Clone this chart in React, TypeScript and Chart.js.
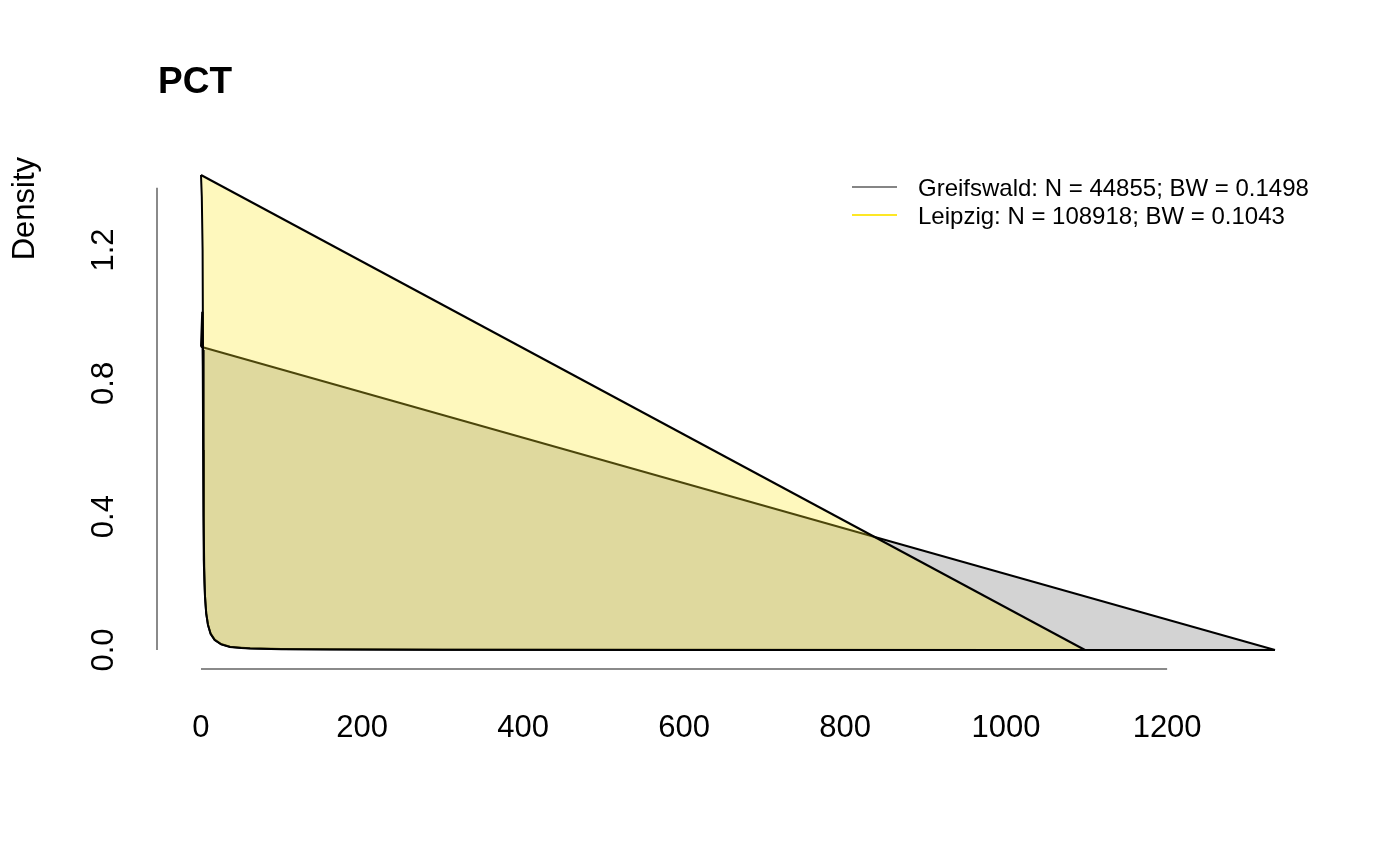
import { useEffect, useRef } from "react"
import { Chart, registerables } from "chart.js"

Chart.register(...registerables)

// Density estimates (x = PCT, y = density)
const greifswaldX = [0, 1.5, 2.2, 2.7, 3.2, 3.7, 4.3, 5, 6.5, 8.7, 12, 17, 25, 36, 50, 61, 100, 160, 300, 600, 1000, 1334]
const greifswaldY = [0.91, 1.015, 0.85, 0.6, 0.4, 0.27, 0.2, 0.16, 0.11, 0.076, 0.049, 0.031, 0.018, 0.01, 0.007, 0.005, 0.003, 0.002, 0.001, 0.0005, 0.0002, 0]

const leipzigX = [0, 1, 2, 2.5, 3, 3.5, 4, 5, 6.5, 8.7, 12, 17, 25, 36, 50, 61, 100, 160, 300, 600, 900, 1098]
const leipzigY = [1.425, 1.36, 1.2, 0.9, 0.6, 0.4, 0.25, 0.16, 0.11, 0.075, 0.048, 0.03, 0.017, 0.009, 0.006, 0.0045, 0.0025, 0.0015, 0.0008, 0.0003, 0.0001, 0]

const xTicks = [0, 200, 400, 600, 800, 1000, 1200]
const yTicks = [0, 0.4, 0.8, 1.2]
const yAxisSpan = [0, 1.387]

const legendLabels = [
  "Greifswald: N = 44855; BW = 0.1498",
  "Leipzig: N = 108918; BW = 0.1043",
]
const legendColors = ["#858585", "#FDE725"]

const FONT = '"Liberation Sans", Arial, Helvetica, sans-serif'

const toPoints = (xs: number[], ys: number[]) => xs.map((x, i) => ({ x, y: ys[i] }))
// R's polygon() closes the shape from the last point back to the first
const closingEdge = (xs: number[], ys: number[]) => [
  { x: xs[xs.length - 1], y: ys[ys.length - 1] },
  { x: xs[0], y: ys[0] },
]

const decorPlugin = {
  id: "decor",
  afterDraw(chart: Chart) {
    const { ctx, chartArea } = chart
    const xs = chart.scales.x
    const ys = chart.scales.y
    ctx.save()

    // axis lines
    ctx.strokeStyle = "#8a8a8a"
    ctx.lineWidth = 2
    ctx.beginPath()
    ctx.moveTo(chartArea.left - 1, ys.getPixelForValue(yAxisSpan[0]))
    ctx.lineTo(chartArea.left - 1, ys.getPixelForValue(yAxisSpan[1]))
    ctx.moveTo(xs.getPixelForValue(xTicks[0]), chartArea.bottom)
    ctx.lineTo(xs.getPixelForValue(xTicks[xTicks.length - 1]), chartArea.bottom)
    ctx.stroke()

    ctx.fillStyle = "#000"
    ctx.font = `31px ${FONT}`
    ctx.textBaseline = "alphabetic"

    // x tick labels
    ctx.textAlign = "center"
    xTicks.forEach((v) => {
      ctx.fillText(String(v), xs.getPixelForValue(v), chartArea.bottom + 68)
    })

    // y tick labels, rotated
    yTicks.forEach((v) => {
      ctx.save()
      ctx.translate(chartArea.left - 45, ys.getPixelForValue(v))
      ctx.rotate(-Math.PI / 2)
      ctx.textAlign = "center"
      ctx.fillText(v.toFixed(1), 0, 0)
      ctx.restore()
    })

    // y axis title
    ctx.save()
    ctx.translate(34, chartArea.top + 1)
    ctx.rotate(-Math.PI / 2)
    ctx.textAlign = "right"
    ctx.fillText("Density", 0, 0)
    ctx.restore()

    // main title
    ctx.font = `bold 37px ${FONT}`
    ctx.textAlign = "left"
    ctx.fillText("PCT", 158, 93)

    // legend
    ctx.font = `24px ${FONT}`
    legendLabels.forEach((label, i) => {
      const y = 187 + i * 28
      ctx.strokeStyle = legendColors[i]
      ctx.lineWidth = 2
      ctx.beginPath()
      ctx.moveTo(852, y)
      ctx.lineTo(897, y)
      ctx.stroke()
      ctx.fillText(label, 918, y + 8.5)
    })

    ctx.restore()
  },
}

export default function App() {
  const chartRef = useRef<HTMLCanvasElement | null>(null)
  const chartInstance = useRef<Chart | null>(null)

  useEffect(() => {
    if (!chartRef.current) return

    if (chartInstance.current) {
      chartInstance.current.destroy()
    }

    const ctx = chartRef.current.getContext("2d")

    if (ctx) {
      chartInstance.current = new Chart(ctx, {
        type: "line",
        data: {
          datasets: [
            {
              label: "Leipzig edge",
              data: closingEdge(leipzigX, leipzigY),
              borderColor: "#000",
              borderWidth: 2,
              pointRadius: 0,
              fill: false,
              order: 0,
            },
            {
              label: "Leipzig",
              data: toPoints(leipzigX, leipzigY),
              borderColor: "#000",
              backgroundColor: "rgba(253, 231, 37, 0.3)",
              borderWidth: 2,
              pointRadius: 0,
              fill: "shape",
              order: 1,
            },
            {
              label: "Greifswald edge",
              data: closingEdge(greifswaldX, greifswaldY),
              borderColor: "#000",
              borderWidth: 2,
              pointRadius: 0,
              fill: false,
              order: 2,
            },
            {
              label: "Greifswald",
              data: toPoints(greifswaldX, greifswaldY),
              borderColor: "#000",
              backgroundColor: "#D3D3D3",
              borderWidth: 2,
              pointRadius: 0,
              fill: "shape",
              order: 3,
            },
          ],
        },
        options: {
          animation: false,
          responsive: true,
          maintainAspectRatio: false,
          layout: {
            padding: { left: 158, right: 82, top: 156, bottom: 196 },
          },
          elements: {
            line: { tension: 0 },
          },
          plugins: {
            legend: { display: false },
            tooltip: { enabled: false },
            title: { display: false },
          },
          scales: {
            x: {
              type: "linear",
              min: -53.4,
              max: 1387.4,
              display: false,
            },
            y: {
              type: "linear",
              min: -0.057,
              max: 1.482,
              display: false,
            },
          },
        },
        plugins: [decorPlugin],
      })
    }

    return () => {
      if (chartInstance.current) {
        chartInstance.current.destroy()
        chartInstance.current = null
      }
    }
  }, [])

  return (
    <div
      style={{
        position: "absolute",
        left: 0,
        top: 0,
        width: 1400,
        height: 865,
        background: "#fff",
      }}
    >
      <canvas ref={chartRef} />
    </div>
  )
}
